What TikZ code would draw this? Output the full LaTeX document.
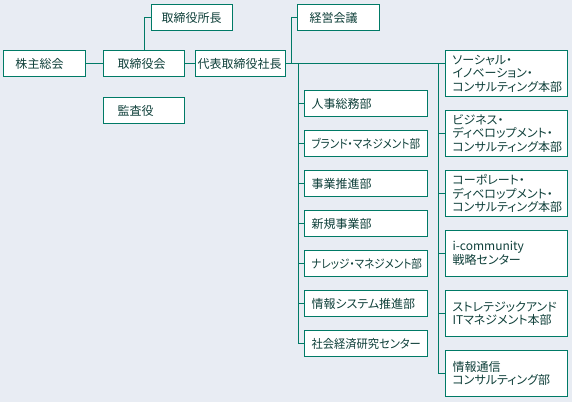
\documentclass[tikz,border=0pt]{standalone}
\usepackage{fontspec}
\usepackage{xcolor}
\usepackage{tikz}
\usetikzlibrary{positioning, calc}
\setmainfont{Noto Sans CJK JP}[RawFeature=+palt]
\newfontfamily\narrowjp{Noto Sans CJK JP}[RawFeature=+palt, FakeStretch=0.88]
\newfontfamily\slimjp{Noto Sans CJK JP}[RawFeature=+palt, FakeStretch=0.94]
\definecolor{orggreen}{HTML}{007A66}
\definecolor{orgtext}{HTML}{0F403A}
\definecolor{orgback}{HTML}{E8ECF3}

\begin{document}
\begin{tikzpicture}[
    x=1pt, y=-1pt,
    box/.style={draw=orggreen, fill=white, line width=1pt, anchor=north west,
                minimum height=26pt, inner ysep=0pt, inner xsep=#1, align=left,
                text=orgtext, font=\fontsize{12}{13.5}\selectfont},
    box/.default=8pt,
    dept/.style={box=7pt, text width=109pt},
    unit/.style={box=7pt, text width=108pt, minimum height=46pt},
    link/.style={draw=orggreen, line width=1pt},
]
    \fill[orgback] (0,0) rectangle (572,402);
    \useasboundingbox (0,0) rectangle (572,402);

    % top level
    \node[box=12pt, text width=58pt] (kabu) at (3,50) {株主総会};
    \node[box=14pt, text width=53pt] (torikai) at (103,50) {取締役会};
    \node[box=10pt, text width=61pt] (shocho) at (151,4) {取締役所長};
    \node[box=14pt, text width=53pt] (kansa) at (103,97) {監査役};
    \node[box=2pt, text width=86pt] (shacho) at (195,50) {代表取締役社長};
    \node[box=12pt, text width=58pt] (keiei) at (297,4) {経営会議};

    % departments
    \node[dept] (d1) at (304,90) {人事総務部};
    \node[dept] (d2) at (304,130) {\narrowjp ブランド・マネジメント部};
    \node[dept] (d3) at (304,170) {事業推進部};
    \node[dept] (d4) at (304,210) {新規事業部};
    \node[dept] (d5) at (304,250) {\narrowjp ナレッジ・マネジメント部};
    \node[dept] (d6) at (304,290) {情報システム推進部};
    \node[dept] (d7) at (304,330) {\slimjp 社会経済研究センター};

    % business units
    \node[unit] (u1) at (445,50) {ソーシャル・\\イノベーション・\\コンサルティング本部};
    \node[unit] (u2) at (445,110) {ビジネス・\\ディベロップメント・\\コンサルティング本部};
    \node[unit] (u3) at (445,170) {コーポレート・\\ディベロップメント・\\コンサルティング本部};
    \node[unit] (u4) at (445,230) {i-community\\戦略センター};
    \node[unit] (u5) at (445,290) {ストレテジックアンド\\ITマネジメント本部};
    \node[unit] (u6) at (445,350) {情報通信\\コンサルティング部};

    \coordinate (jk) at ($(shacho.east)+(5,0)$);
    \coordinate (jd) at ($(shacho.east)+(12,0)$);
    \coordinate (ju) at ($(shacho.east -| u1.west)+(-7,0)$);

    \draw[link] (kabu) -- (torikai);
    \draw[link] (torikai) -- (shacho);
    \draw[link] (torikai.north) |- (shocho.west);
    \draw[link] (shacho.east) -- (shacho.east -| u1.west);
    \draw[link] (jk) |- (keiei.west);
    \foreach \i in {1,...,7}
        \draw[link] (jd) |- (d\i.west);
    \foreach \i in {2,...,6}
        \draw[link] (ju) |- (u\i.west);
\end{tikzpicture}
\end{document}
